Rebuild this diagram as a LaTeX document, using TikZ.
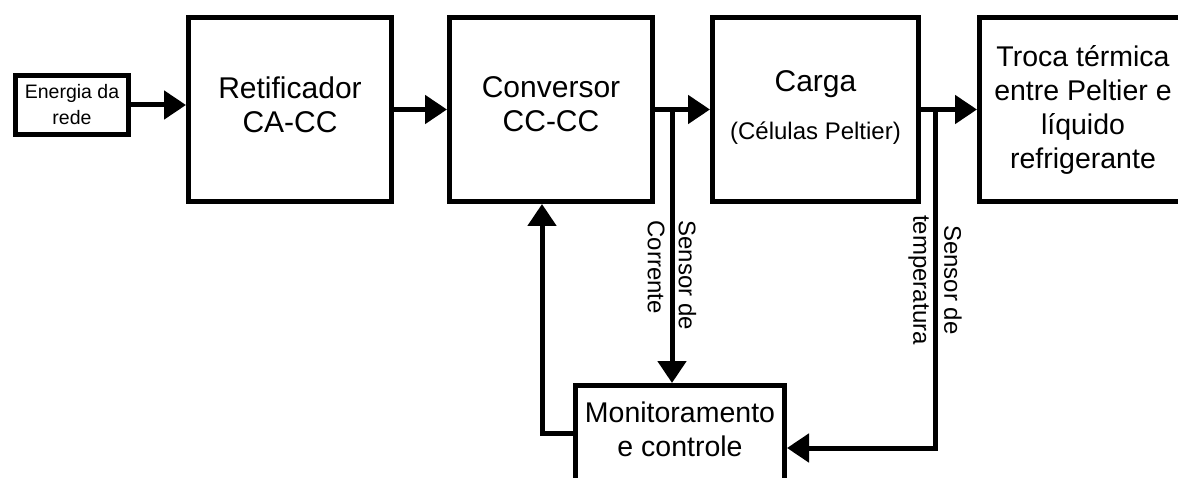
\documentclass[tikz,border=0pt]{standalone}
\usepackage{fontspec}
\setmainfont{Liberation Sans}
\usetikzlibrary{arrows.meta}

\begin{document}
\begin{tikzpicture}[x=1pt, y=-1pt, line width=5pt,
    >={Triangle[length=22pt, width=28pt]},
    block/.style={draw, inner sep=0pt, align=center,
      font=\fontsize{30}{34}\selectfont},
    sensor/.style={rotate=-90, inner sep=0pt, font=\fontsize{24}{31}\selectfont}]
  \useasboundingbox[fill=white] (0,0) rectangle (1178,478);
  \clip (0,0) rectangle (1178,478);

  % Blocks of the main chain
  \node[block, minimum width=113pt, minimum height=59pt,
    font=\fontsize{19.5}{26}\selectfont] (energia) at (72,105) {Energia da\\rede};
  \node[block, minimum width=203pt, minimum height=184pt, text depth=10pt] (retif) at (290,109.5) {Retificador\\CA-CC};
  \node[block, minimum width=203pt, minimum height=184pt, text depth=10pt] (conv) at (551,109.5) {Conversor\\CC-CC};
  \node[block, minimum width=206pt, minimum height=184pt, text depth=9pt] (carga) at (815.5,109.5)
    {Carga\\[14pt]{\fontsize{24}{31}\selectfont(Células Peltier)}};
  \node[block, minimum width=207pt, minimum height=184pt,
    font=\fontsize{28.5}{34}\selectfont] (troca) at (1083,109.5)
    {Troca térmica\\entre Peltier e\\líquido\\refrigerante};

  % Control block below
  \node[block, minimum width=209pt, minimum height=95pt, text depth=7pt,
    font=\fontsize{28.5}{34}\selectfont] (monit) at (680,433) {Monitoramento\\e controle};

  % Power flow
  \draw[->] (energia.east) -- (energia.east -| retif.west);
  \draw[->] (retif) -- (conv);
  \draw[->] (conv) -- (carga);
  \draw[->] (carga) -- (troca);

  % Measurements and feedback
  \coordinate (j1) at (672,109.5);
  \coordinate (j2) at (935,109.5);
  \draw[->] (j1) -- (j1 |- monit.north);
  \draw[->] (j2) |- ([yshift=-15pt]monit.east);
  \draw[->] (monit.west) -| ([xshift=-9pt]conv.south);

  \node[sensor, anchor=west, align=left] (scorr) at (672,218) {Sensor de\\Corrente};
  \node[sensor, align=center] (stemp) at (935,280) {Sensor de\\temperatura};
\end{tikzpicture}
\end{document}
